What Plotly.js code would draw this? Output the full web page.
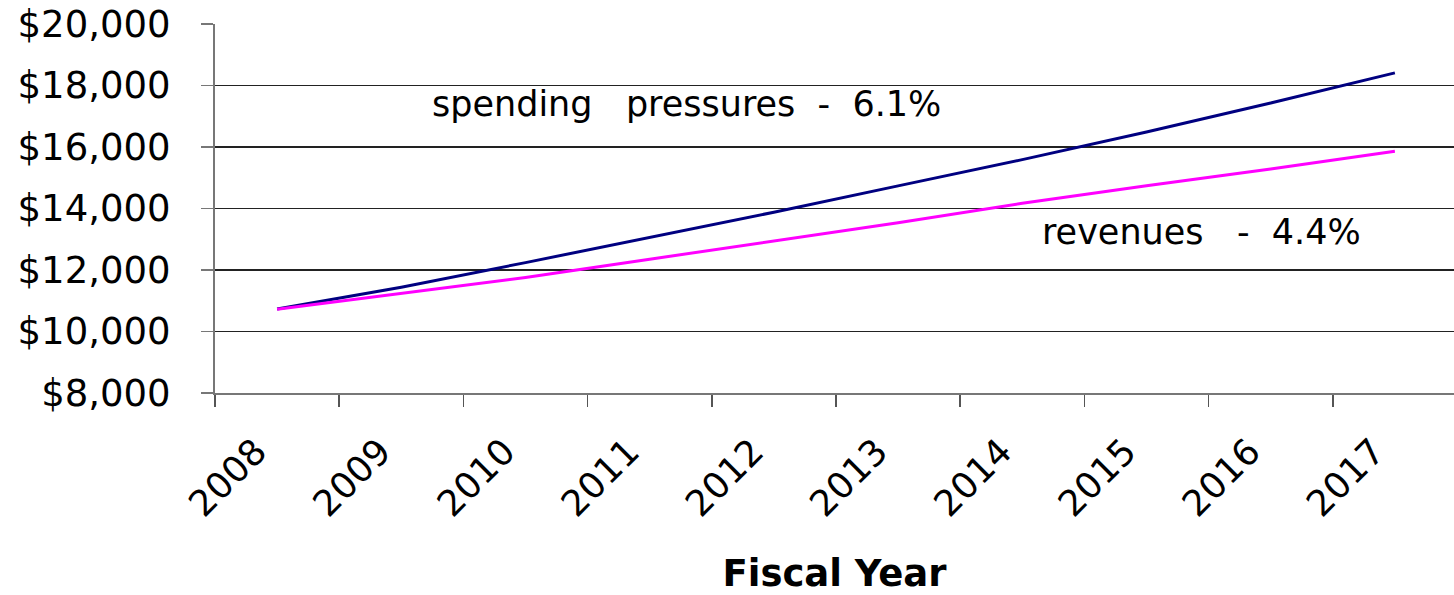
<!DOCTYPE html>
<html>
<head>
<meta charset="utf-8">
<script src="https://cdn.plot.ly/plotly-3.0.1.min.js"></script>
<style>html,body{margin:0;padding:0;background:#fff;}#chart{width:1454px;height:595px;}</style>
</head>
<body>
<div id="chart"></div>
<script>
const years = ['2008','2009','2010','2011','2012','2013','2014','2015','2016','2017'];
const spending = [10730, 11440, 12240, 13060, 13880, 14735, 15590, 16490, 17430, 18410];
const revenues = [10720, 11230, 11755, 12350, 12950, 13540, 14170, 14740, 15285, 15860];
const spendingLabel = 'spending\u00A0\u00A0\u00A0pressures\u00A0\u00A0-\u00A0\u00A06.1%';
const revenuesLabel = 'revenues\u00A0\u00A0\u00A0-\u00A0\u00A04.4%';
const xTitle = 'Fiscal Year';

const font = 'DejaVu Sans, Verdana, sans-serif';

const traces = [
  {x: years, y: spending, type: 'scatter', mode: 'lines', name: 'spending pressures',
   line: {color: '#000080', width: 3}},
  {x: years, y: revenues, type: 'scatter', mode: 'lines', name: 'revenues',
   line: {color: '#FF00FF', width: 3}}
];

const layout = {
  width: 1454, height: 595,
  margin: {l: 215, r: 0, t: 24, b: 202, pad: 0},
  paper_bgcolor: '#ffffff', plot_bgcolor: '#ffffff',
  showlegend: false,
  font: {family: font, color: '#000000'},
  xaxis: {
    type: 'category',
    range: [-0.5, 9.476],
    tickson: 'boundaries',
    ticks: 'outside', ticklen: 12, tickwidth: 1.5, tickcolor: '#555555',
    showgrid: false, zeroline: false,
    showline: true, linecolor: '#777777', linewidth: 2,
    tickangle: -45,
    tickfont: {family: font, size: 36, color: '#000000'},
    ticklabelstandoff: 21,
    ticklabelshift: -21,
    automargin: false,
    title: {text: xTitle, font: {family: font, size: 37, color: '#000000', weight: 'bold'}, standoff: 40}
  },
  yaxis: {
    range: [8000, 20000],
    dtick: 2000, tick0: 8000,
    tickprefix: '$', tickformat: ',d',
    ticks: 'outside', ticklen: 12, tickwidth: 1.5, tickcolor: '#777777',
    showgrid: true, gridcolor: '#222222', gridwidth: 1.3,
    zeroline: false,
    showline: true, linecolor: '#777777', linewidth: 2,
    tickfont: {family: font, size: 37, color: '#000000'},
    ticklabelstandoff: 23,
    automargin: false
  },
  annotations: [
    {x: 1.23, y: 17400, xref: 'x', yref: 'y', text: spendingLabel, showarrow: false,
     xanchor: 'left', yanchor: 'middle', font: {family: font, size: 35, color: '#000000'}},
    {x: 6.14, y: 13230, xref: 'x', yref: 'y', text: revenuesLabel, showarrow: false,
     xanchor: 'left', yanchor: 'middle', font: {family: font, size: 35, color: '#000000'}}
  ]
};

Plotly.newPlot('chart', traces, layout, {staticPlot: true, displayModeBar: false});
</script>
</body>
</html>
